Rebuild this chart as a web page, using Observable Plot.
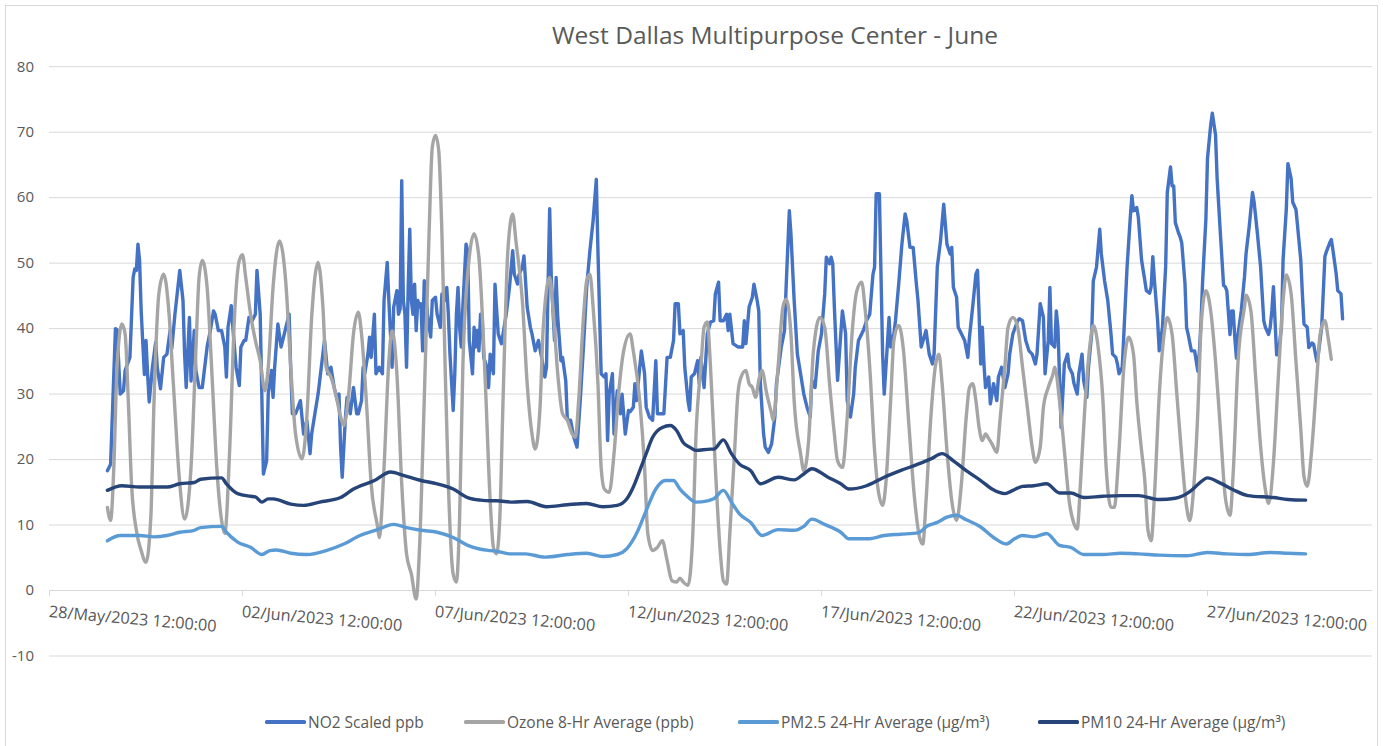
<!DOCTYPE html>
<html>
<head>
<meta charset="utf-8">
<script src="https://cdn.jsdelivr.net/npm/d3@7"></script>
<script src="https://cdn.jsdelivr.net/npm/@observablehq/plot@0.6"></script>
<style>
  body { margin: 0; background: #fff; }
  #chart { position: relative; width: 1383px; height: 746px; overflow: hidden; background: #fff; font-family: "Open Sans", sans-serif; color: #595959; }
  #frame { position: absolute; left: 5px; top: 5px; width: 1373px; height: 780px; border: 1px solid #d9d9d9; box-sizing: border-box; }
  #title { position: absolute; left: 375px; width: 800px; top: 22.5px; text-align: center; font-size: 24.5px; line-height: 24px; white-space: nowrap; }
  #plot { position: absolute; left: 0; top: 52px; }
  #legend { position: absolute; left: 0; top: 712px; width: 1383px; height: 20px; }
  .item { position: absolute; top: 0; height: 20px; display: flex; align-items: center; font-size: 15.5px; line-height: 20px; white-space: nowrap; }
  .sw { width: 41px; height: 3.3px; margin-right: 2px; border-radius: 1.5px; }
</style>
</head>
<body>
<div id="chart">
  <div id="frame"></div>
  <div id="title"></div>
  <div id="plot"></div>
  <div id="legend"></div>
</div>
<script>
const chartTitle = "West Dallas Multipurpose Center - June";
const seriesNames = ["NO2 Scaled ppb", "Ozone 8-Hr Average (ppb)", "PM2.5 24-Hr Average (µg/m³)", "PM10 24-Hr Average (µg/m³)"];
const seriesColors = ["#4472C4", "#A5A5A5", "#5B9BD5", "#264478"];
const yTicks = [-10, 0, 10, 20, 30, 40, 50, 60, 70, 80];
const tickLabels = ["28/May/2023 12:00:00", "02/Jun/2023 12:00:00", "07/Jun/2023 12:00:00", "12/Jun/2023 12:00:00", "17/Jun/2023 12:00:00", "22/Jun/2023 12:00:00", "27/Jun/2023 12:00:00"];
const xDomain = ["2023-05-28T12:00Z", "2023-07-01T18:36Z"];
const seriesStart = "2023-05-30T00:00Z"; // hour 0 of the series below

// [hour since 30/May 00:00, value]
const no2 = [[0,18.3],[2,19.3],[5,40],[6,39.8],[8,30],[10,30.5],[11,33.6],[14,35.6],[16,47.8],[17,49.1],[18,48.9],[19,52.9],[20,50.4],[21,42.7],[23,33],[24,38.2],[25,33],[26,28.8],[28,34.1],[30,37.9],[31,34.1],[33,30.8],[35,35.6],[37,36.1],[39,39.7],[40,36.9],[42,42.2],[45,48.9],[47,44.3],[48,36.1],[49,31],[51,41.7],[52,32],[54,39.7],[55,33.6],[57,31],[59,31],[62,37.2],[64,39.7],[66,42.7],[67,42.2],[69,39.7],[71,39.7],[73,37.2],[74,32.6],[75,40.2],[77,43.5],[78,40.2],[80,34.1],[82,31.3],[83,37.2],[85,38.2],[86,38.2],[88,41.7],[90,41.2],[92,42.2],[93,48.9],[95,42.2],[96,30],[97,17.8],[99,19.8],[100,30],[102,33.6],[103,29.5],[104,34.1],[106,40.7],[108,37.2],[110,39.2],[113,42.2],[114,33.6],[115,27],[117,27],[120,29],[122,23.9],[124,26],[126,20.9],[127,23.9],[129,27],[131,30],[133,34.1],[135,38.2],[136,35.6],[137,33.1],[139,34.1],[141,31],[143,29],[144,30],[145,21.9],[146,17.3],[148,26.5],[149,29.5],[151,27],[153,31],[155,27],[156,27],[158,29],[159,34.1],[160,33.1],[162,36.1],[163,38.7],[164,35.6],[166,42.2],[167,33.1],[169,34.1],[171,33.1],[172,44.3],[174,50.1],[175,44.3],[177,34.1],[178,43.3],[180,45.8],[181,42.2],[182,43],[183,62.6],[184,44.3],[185,42.2],[186,34.1],[187,46],[188,55.2],[189,44.3],[190,42.2],[191,46.8],[192,39.7],[193,44.3],[194,43.3],[195,43.8],[196,36.6],[197,47.3],[198,45.3],[199,42.2],[201,38.7],[202,44.3],[204,44.8],[205,42.2],[207,40.2],[208,45.3],[210,44.3],[211,46.3],[212,42.2],[213,36.1],[215,27.5],[216,33.1],[217,42.2],[218,46.3],[219,40.2],[220,37.2],[221,43.3],[223,52.9],[224,51.9],[225,38.2],[227,33.1],[228,40.2],[229,37.2],[230,39.7],[231,36.6],[232,42.2],[233,41.7],[234,35.6],[236,34.1],[237,31],[238,36.1],[240,33.1],[241,46.8],[243,39.2],[245,37.7],[248,42.2],[250,46.3],[252,51.9],[253,48.3],[255,46.8],[256,48.3],[258,49.4],[259,51.1],[261,43.3],[263,40.2],[264,39.2],[266,36.6],[268,38.2],[270,35.6],[272,32.6],[273,34.1],[274,46.8],[275,58.3],[276,47.8],[278,38.2],[279,47.8],[280,41.7],[282,35.1],[283,35.6],[285,32],[286,26],[288,26],[290,23.4],[292,21.9],[294,29],[296,37.2],[298,46.3],[300,51.9],[302,56.5],[304,62.8],[305,51.9],[307,33.1],[309,32.6],[310,33.1],[311,22.9],[312,30],[314,33.1],[315,23.9],[317,30.5],[319,27],[320,30],[322,23.9],[324,27.5],[325,27.3],[327,28],[328,31.6],[329,29],[331,34.1],[332,36.6],[334,33.1],[335,28],[337,26.5],[339,26],[341,35.1],[342,27],[344,27],[346,27],[348,35.6],[350,35.6],[352,38.2],[353,43.8],[355,43.8],[356,39.2],[358,39.7],[359,34.1],[361,29],[362,27.5],[363,32.6],[365,33.1],[367,35.1],[368,31.6],[369,35.6],[371,31],[373,39.2],[375,41],[377,41.2],[378,45.3],[380,47.1],[381,41.2],[383,41.2],[385,42.2],[386,39.7],[387,42.2],[389,37.7],[392,37.2],[395,37.2],[396,41.2],[397,37.7],[399,43.3],[401,44.8],[402,46.8],[404,44.3],[405,42.7],[406,31.6],[408,23.9],[409,21.9],[411,21.1],[413,22.4],[415,26.5],[416,31.6],[419,37.2],[421,39.7],[422,46.3],[424,58],[425,54.5],[427,44.3],[429,36.1],[431,33.1],[433,30],[435,28],[437,26.5],[438,32.1],[440,31],[442,36.6],[444,39.2],[446,45.3],[447,50.9],[449,49.9],[450,50.9],[451,49.9],[452,43.3],[454,32.1],[456,39.2],[457,42.7],[459,39.2],[460,29],[462,26.5],[464,30],[465,34.1],[467,38.2],[470,39.7],[472,41.2],[474,42.2],[476,48.3],[477,49.4],[478,60.6],[480,60.6],[481,48.3],[482,36.1],[483,30],[485,37.7],[486,41.7],[487,37.2],[489,39.2],[490,41.2],[492,46.8],[494,52.9],[496,57.5],[497,56.5],[499,52.4],[501,52.4],[503,46.8],[504,44.3],[506,37.2],[509,39.7],[511,36.1],[513,34.6],[514,36.1],[516,49.4],[518,53.4],[520,59],[522,52.9],[524,51.4],[525,52.4],[526,46.3],[528,44.8],[529,40.2],[531,39.2],[533,38.2],[535,35.6],[536,38.7],[538,43.3],[540,48.3],[541,48.9],[542,42.2],[543,34.6],[544,40.2],[545,34.6],[546,31],[548,32.6],[549,28.5],[551,31.6],[553,29],[554,32.6],[556,34.1],[558,31],[560,33.1],[561,36.1],[563,39.2],[566,41.2],[567,41.5],[569,41.2],[571,38.2],[573,36.6],[575,36.1],[577,34.6],[578,36.1],[580,43.8],[582,41.7],[583,33.1],[585,38.2],[586,46.3],[587,37.7],[589,37.2],[590,42.7],[591,40.2],[592,32.6],[593,24.9],[595,34.6],[597,36.1],[598,34.1],[600,33.1],[601,31.6],[603,30],[604,33.1],[606,36.1],[607,32.1],[609,29.5],[610,34.1],[612,39.2],[613,47.3],[615,49.4],[617,55.2],[618,51.4],[620,47.3],[622,44.3],[624,39.2],[625,36.1],[627,35.6],[628,34.6],[629,33.1],[631,34.1],[632,39.2],[634,49.4],[636,57],[637,60.3],[638,58],[640,58.5],[641,57],[643,50.5],[645,47.4],[646,45.8],[648,45.4],[649,46.4],[650,51],[651,47.4],[653,41.2],[654,36.6],[656,40.2],[658,49.5],[659,60.8],[661,64.7],[662,61.8],[663,61.8],[664,56.2],[666,54.6],[667,54],[668,53.1],[670,46.9],[671,40.2],[672,39.1],[674,36.6],[676,36.6],[678,33.5],[679,36.6],[680,41.2],[681,47.4],[683,56.7],[684,66],[686,71.1],[687,72.9],[689,69.6],[690,62.9],[692,54.6],[694,46.6],[695,46.4],[696,45.8],[698,39.1],[699,42.7],[700,42.7],[701,38.6],[702,35.5],[703,39.1],[705,42.7],[707,47.9],[708,51.5],[710,55.7],[712,60.8],[713,59.3],[715,54.6],[717,49.5],[718,45.3],[719,41.2],[720,40.2],[722,39.1],[723,40.2],[724,42.7],[725,46.4],[727,36],[728,36],[730,40.2],[731,50.5],[733,58.2],[734,65.2],[736,62.9],[737,59.3],[739,58.2],[740,55.7],[742,50.5],[743,45.3],[744,40.7],[746,40.2],[747,37.1],[749,37.8],[750,37.6],[752,35],[753,36.3],[755,40.2],[757,51],[758,51.8],[760,53.1],[761,53.6],[762,52],[764,48.4],[765,45.8],[767,45.3],[768,41.5]];

const ozone = [[0,12.7],[2,10.7],[4,18.8],[6,34.1],[9,40.7],[11,39.2],[13,29],[15,16.3],[18,9.2],[21,6.1],[24,4.3],[27,11.2],[29,29],[32,45.3],[35,48.3],[38,43.3],[41,31.6],[45,16.3],[48,10.9],[52,18.8],[55,36.6],[57,47.8],[59,50.4],[62,46.3],[65,33.1],[68,18.8],[71,10.7],[73,8.7],[76,21.4],[79,41.7],[82,50.4],[84,51.3],[86,47.8],[89,42.2],[92,38.2],[95,35.1],[98,30.5],[100,34.1],[103,46.3],[107,53.4],[111,46.8],[114,34.1],[117,23.9],[121,20.1],[124,26.5],[127,41.7],[131,50.1],[134,43.3],[136,34.1],[139,32.6],[142,30],[145,26.5],[147,25.2],[150,30],[153,39.2],[156,42.5],[158,39.2],[161,29],[164,16.3],[168,9.7],[169,8.1],[172,18.8],[175,35.1],[177,39.7],[180,33.1],[183,16.3],[186,5.6],[189,2.5],[192,-1.3],[194,6.1],[197,29],[200,54.5],[202,67.7],[204,69.5],[206,67.2],[208,54.5],[210,34.1],[212,16.3],[215,2.5],[217,1.3],[219,11.2],[221,34.1],[225,50.9],[228,54.5],[231,50.9],[235,31.6],[238,13.7],[240,6.6],[242,5.6],[244,11.2],[246,29],[249,51.9],[252,57.5],[254,53.4],[258,44.3],[261,31.6],[264,23.9],[266,21.6],[269,28],[271,40.2],[275,47.8],[277,43.3],[280,33.1],[283,27],[286,26],[289,23.9],[291,23.4],[293,29],[296,41.7],[298,47.3],[300,48.3],[302,43.3],[305,31.6],[307,18.8],[309,15.5],[312,15],[315,20.9],[318,30.5],[321,36.6],[325,39.2],[327,36.6],[331,29],[334,18.8],[336,8.7],[339,6.1],[342,6.6],[345,7.6],[348,4.6],[351,1.5],[354,1.3],[356,1.9],[358,1.3],[361,0.8],[364,8.7],[366,23.9],[369,34.1],[371,40.2],[373,41],[375,34.1],[378,18.8],[381,6.1],[383,1.5],[385,1],[387,8.7],[390,21.4],[392,30],[394,32.6],[397,33.6],[399,31.6],[401,31],[403,29.5],[405,32.1],[407,33.6],[410,30],[413,27],[414,26],[417,34.1],[420,43.3],[422,44.5],[425,39.2],[427,29],[431,20.9],[433,18.3],[436,22.9],[439,36.6],[443,41.7],[446,40.2],[449,31.6],[452,23.9],[454,19.8],[457,18.8],[460,26.5],[463,39.2],[466,45.8],[469,47.1],[471,43.3],[474,34.1],[477,21.4],[479,15.8],[482,13],[484,16.3],[487,29],[489,38.2],[492,40.5],[495,36.6],[498,26.5],[502,13.7],[505,8.1],[507,7.1],[509,13.7],[512,26.5],[515,34.6],[517,36.1],[519,31.6],[522,21.4],[525,13.7],[528,10.7],[531,16.3],[534,26.5],[536,31],[538,31.6],[540,29],[542,24.9],[544,22.9],[546,23.9],[548,23.2],[550,22.4],[553,21.1],[555,26],[558,34.1],[560,40.2],[563,41.7],[566,40.2],[569,34.1],[572,28],[575,21.9],[577,19.6],[580,21.9],[582,28],[585,31],[588,33.1],[589,34.1],[592,29],[595,21.4],[598,13.7],[601,10.2],[603,9.4],[605,16.3],[608,29],[611,37.7],[613,40.5],[616,37.2],[619,29],[621,18.8],[624,12.7],[626,12.7],[629,21.4],[632,34.1],[635,38.7],[638,36.1],[640,29],[643,21.4],[645,16.9],[647,9.2],[649,7.6],[651,14.4],[654,29.8],[657,39.1],[659,41.7],[662,39.1],[665,29.8],[668,20.5],[671,12.8],[673,10.7],[675,14.4],[678,27.3],[680,40.2],[683,45.8],[686,42.7],[689,35],[692,24.7],[695,14.4],[698,11.5],[700,18],[703,35],[707,43.3],[708,45.1],[711,42.7],[714,32.4],[717,22.1],[720,15.4],[722,13.3],[725,19.5],[728,32.4],[731,44.3],[733,48.2],[736,45.3],[739,35],[742,24.7],[744,17.4],[746,15.9],[749,22.1],[752,32.4],[754,39.1],[757,41.2],[759,38.6],[761,35.3]];

const pm25 = [[0,7.6],[8,8.4],[20,8.4],[29,8.2],[37,8.4],[45,8.9],[54,9.2],[58,9.6],[71,9.8],[74,8.9],[81,7.4],[89,6.6],[96,5.5],[101,6.1],[105,6.2],[114,5.7],[124,5.5],[136,6.1],[147,7.1],[157,8.4],[168,9.3],[178,10.1],[186,9.6],[195,9.2],[205,8.9],[215,8.1],[224,6.9],[232,6.3],[238,6.1],[242,6],[250,5.6],[260,5.6],[272,5.1],[286,5.5],[298,5.7],[308,5.2],[317,5.5],[323,6.4],[329,8.7],[335,12.2],[341,15.5],[347,16.8],[352,16.8],[356,15.5],[360,14.5],[366,13.5],[373,13.7],[377,14],[383,15.3],[388,13.5],[393,11.7],[400,10.4],[407,8.4],[417,9.3],[427,9.2],[433,9.8],[438,10.9],[446,10.1],[456,8.9],[461,7.9],[473,7.9],[483,8.4],[493,8.6],[504,8.8],[510,9.9],[516,10.4],[522,11.2],[528,11.5],[534,10.8],[543,9.7],[551,8.1],[559,7.1],[564,7.9],[569,8.4],[576,8.2],[584,8.7],[592,6.9],[599,6.6],[607,5.5],[619,5.5],[630,5.7],[641,5.6],[654,5.4],[671,5.3],[684,5.8],[696,5.6],[709,5.5],[723,5.8],[734,5.7],[745,5.6]];

const pm10 = [[0,15.3],[9,16],[20,15.8],[29,15.8],[37,15.8],[45,16.3],[54,16.5],[58,17],[71,17.2],[74,16.3],[81,14.8],[89,14.4],[92,14.3],[96,13.5],[100,14],[103,14],[114,13.2],[122,13],[132,13.5],[145,14.2],[153,15.5],[166,16.8],[176,18.1],[184,17.6],[195,16.8],[205,16.3],[215,15.5],[224,14.2],[232,13.8],[238,13.7],[242,13.7],[252,13.5],[261,13.6],[273,12.8],[286,13.1],[298,13.3],[308,12.8],[317,13],[323,14],[327,15.8],[331,18.3],[335,20.9],[339,23.4],[345,24.9],[350,25.2],[354,24.4],[358,22.6],[362,21.9],[366,21.4],[375,21.6],[377,21.6],[383,23],[388,20.9],[393,19.3],[400,18.3],[406,16.3],[417,17.3],[427,16.9],[433,17.8],[438,18.6],[448,17.3],[456,16.3],[461,15.5],[472,16],[483,17.3],[493,18.3],[504,19.3],[512,20.1],[519,20.9],[526,19.8],[534,18.3],[543,16.8],[550,15.5],[558,14.8],[563,15.3],[569,15.9],[576,16],[584,16.3],[592,14.9],[599,14.9],[607,14.2],[619,14.4],[630,14.5],[641,14.5],[654,13.9],[664,14.1],[673,15.1],[679,16.4],[684,17.2],[692,16.4],[700,15.4],[709,14.5],[725,14.2],[734,13.9],[745,13.8]];

// ---- build ----
const t0 = new Date(seriesStart).getTime();
const rows = arr => arr.map(([h, v]) => ({t: new Date(t0 + h * 3600e3), v}));
const parseTick = d3.utcParse("%d/%b/%Y %H:%M:%S");
const tickDates = tickLabels.map(parseTick);

document.getElementById("title").textContent = chartTitle;

const lineStyle = {strokeWidth: 3.4, strokeLinejoin: "round", strokeLinecap: "round"};

const chart = Plot.plot({
  width: 1383,
  height: 638,
  marginLeft: 49,
  marginRight: 11,
  marginTop: 14.2,
  marginBottom: 34.5,
  style: {fontFamily: "'Open Sans', sans-serif", background: "transparent", overflow: "visible"},
  x: {type: "utc", domain: xDomain.map(d => new Date(d)), axis: null},
  y: {domain: [-10, 80], axis: null},
  marks: [
    Plot.ruleY(yTicks, {y: d => d, stroke: "#d9d9d9", strokeWidth: 1}),
    Plot.ruleX(tickDates, {x: d => d, y1: () => 0, y2: () => 0, insetBottom: -6, stroke: "#d9d9d9", strokeWidth: 1}),
    Plot.text(yTicks, {y: d => d, text: d => String(d), frameAnchor: "left", dx: -15.5, textAnchor: "end", fontSize: 15, fill: "#595959"}),
    Plot.text(tickDates, {x: d => d, y: () => 0, text: (d, i) => tickLabels[i], rotate: 5, textAnchor: "start", lineAnchor: "top", dy: 15, fontSize: 16.3, fill: "#595959"}),
    Plot.line(rows(no2), {x: "t", y: "v", stroke: seriesColors[0], ...lineStyle}),
    Plot.line(rows(ozone), {x: "t", y: "v", stroke: seriesColors[1], curve: "monotone-x", ...lineStyle}),
    Plot.line(rows(pm25), {x: "t", y: "v", stroke: seriesColors[2], curve: "monotone-x", ...lineStyle}),
    Plot.line(rows(pm10), {x: "t", y: "v", stroke: seriesColors[3], curve: "monotone-x", ...lineStyle})
  ]
});
document.getElementById("plot").appendChild(chart);

// legend
const legendLeft = [265, 464, 738, 1038];
const legend = document.getElementById("legend");
seriesNames.forEach((name, i) => {
  const item = document.createElement("div");
  item.className = "item";
  item.style.left = legendLeft[i] + "px";
  const sw = document.createElement("span");
  sw.className = "sw";
  sw.style.background = seriesColors[i];
  const label = document.createElement("span");
  label.textContent = name;
  item.appendChild(sw);
  item.appendChild(label);
  legend.appendChild(item);
});
</script>
</body>
</html>
